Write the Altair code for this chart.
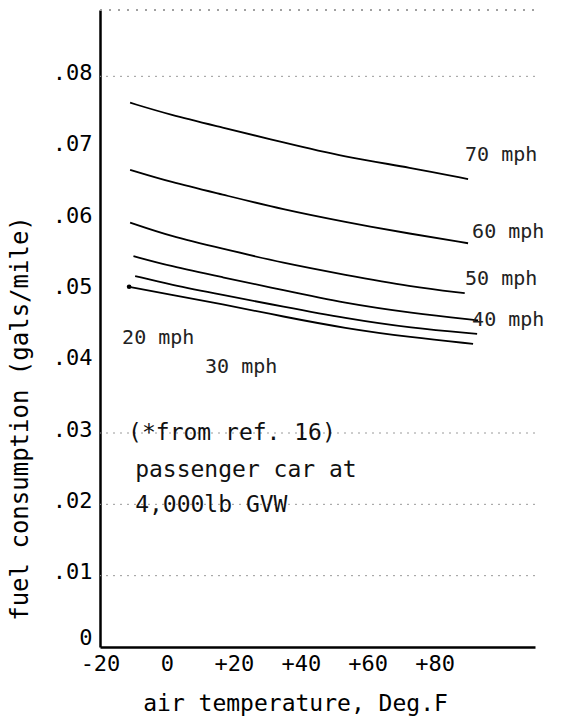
import altair as alt
import pandas as pd

FONT = "DejaVu Sans Mono"

# ---- data (air temperature in deg F, fuel consumption in gal/mile)
temp_70 = [-11, 1, 16, 35, 53, 73, 90]
fc_70 = [0.0763, 0.0746, 0.0729, 0.0707, 0.0687, 0.0672, 0.0656]
temp_60 = [-11, 1, 16, 35, 53, 73, 90]
fc_60 = [0.0669, 0.0652, 0.0635, 0.0613, 0.0596, 0.0579, 0.0566]
temp_50 = [-11, 1, 16, 35, 53, 73, 89]
fc_50 = [0.0595, 0.0576, 0.0559, 0.0538, 0.0522, 0.0505, 0.0496]
temp_40 = [-10, 1, 16, 35, 53, 73, 93]
fc_40 = [0.0548, 0.0534, 0.0519, 0.0500, 0.0482, 0.0468, 0.0458]
temp_20 = [-9.5, 1, 16, 35, 53, 73, 92.7]
fc_20 = [0.0520, 0.0508, 0.0494, 0.0477, 0.0461, 0.0447, 0.0439]
temp_30 = [-11.3, 1, 16, 35, 53, 73, 91.5]
fc_30 = [0.0505, 0.0494, 0.0481, 0.0463, 0.0447, 0.0434, 0.0425]

series = {
    "70 mph": (temp_70, fc_70),
    "60 mph": (temp_60, fc_60),
    "50 mph": (temp_50, fc_50),
    "40 mph": (temp_40, fc_40),
    "20 mph": (temp_20, fc_20),
    "30 mph": (temp_30, fc_30),
}

x_ticks = [-20, 0, 20, 40, 60, 80]
y_ticks = [0, 0.01, 0.02, 0.03, 0.04, 0.05, 0.06, 0.07, 0.08]
grid_values = [0.01, 0.02, 0.03, 0.08]

curve_labels = ["70 mph", "60 mph", "50 mph", "40 mph", "20 mph", "30 mph"]
curve_label_x = [89.1, 91.2, 89.1, 91.2, -13.4, 11.4]
curve_label_y = [0.0690, 0.0582, 0.0516, 0.0458, 0.0433, 0.0393]

note_labels = ["(*from ref. 16)", "passenger car at", "4,000lb GVW"]
note_x = [-11.6, -9.5, -9.5]
note_y = [0.0300, 0.0248, 0.0199]

# ---- tables
rows = []
for name, (ts, fs) in series.items():
    for t, f in zip(ts, fs):
        rows.append({"series": name, "temp": t, "fc": f})
df = pd.DataFrame(rows)
dot_df = pd.DataFrame({"temp": [temp_30[0]], "fc": [fc_30[0]]})
grid_df = pd.DataFrame({"fc": grid_values})
curve_df = pd.DataFrame({"label": curve_labels, "temp": curve_label_x, "fc": curve_label_y})
note_df = pd.DataFrame({"label": note_labels, "temp": note_x, "fc": note_y})

W, H = 435, 637

x_enc = alt.X(
    "temp:Q",
    scale=alt.Scale(domain=[-20, 110], nice=False, zero=False),
    axis=alt.Axis(
        values=x_ticks,
        labelExpr="datum.value > 0 ? '+' + datum.value : '' + datum.value",
        ticks=False, grid=False,
        domainColor="black", domainWidth=2.5,
        labelFont=FONT, labelFontSize=22, labelColor="black", labelPadding=6,
        labelFlush=False,
        title="air temperature, Deg.F",
        titleFont=FONT, titleFontSize=23, titleFontWeight="normal", titleColor="black",
        titleX=195, titleY=56, titleBaseline="middle", titleAlign="center",
    ),
)
y_enc = alt.Y(
    "fc:Q",
    scale=alt.Scale(domain=[0, 0.0893], nice=False),
    axis=alt.Axis(
        values=y_ticks,
        labelExpr="datum.value == 0 ? '0' : replace(format(datum.value, '.2f'), '0.', '.')",
        ticks=False, grid=False,
        domainColor="black", domainWidth=2.5,
        labelFont=FONT, labelFontSize=22, labelColor="black", labelPadding=8,
        labelOffset={"condition": {"test": "datum.value == 0", "value": -10}, "value": -4},
        labelFlush=False,
        title="fuel consumption (gals/mile)",
        titleFont=FONT, titleFontSize=24, titleFontWeight="normal", titleColor="black",
        titleAngle=270, titleX=-80, titleY=408, titleBaseline="middle", titleAlign="center",
    ),
)

grid = alt.Chart(grid_df).mark_rule(color="#9a9a9a", strokeDash=[2, 5], strokeWidth=1).encode(y=y_enc)
top = alt.Chart(grid_df).mark_rule(color="#9a9a9a", strokeDash=[2, 7], strokeWidth=1).encode(
    x=alt.value(0), x2=alt.value(W), y=alt.value(0)
)
lines = alt.Chart(df).mark_line(color="black", strokeWidth=1.8, interpolate="basis").encode(
    x=x_enc, y=y_enc, detail="series:N"
)
dot = alt.Chart(dot_df).mark_point(filled=True, color="black", size=22, opacity=1).encode(x=x_enc, y=y_enc)
curve_text = alt.Chart(curve_df).mark_text(
    align="left", baseline="middle", font=FONT, fontSize=20, color="#222"
).encode(x=x_enc, y=y_enc, text="label:N")
note_text = alt.Chart(note_df).mark_text(
    align="left", baseline="middle", font=FONT, fontSize=23, color="#111"
).encode(x=x_enc, y=y_enc, text="label:N")

chart = (
    alt.layer(grid, top, lines, dot, curve_text, note_text)
    .properties(
        width=W, height=H,
        autosize=alt.AutoSizeParams(type="none"),
        padding={"left": 100, "top": 10, "right": 28, "bottom": 72},
        background="white",
    )
    .configure_view(stroke=None)
)

chart.save("out.html", embed_options={"renderer": "svg", "actions": False})
